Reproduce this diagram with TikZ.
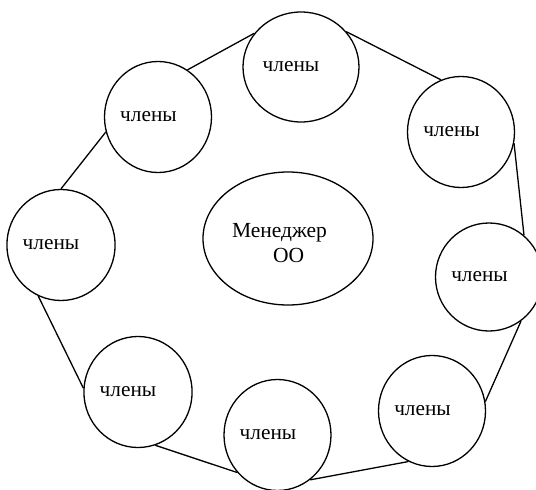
\documentclass[tikz,border=0pt]{standalone}
\usepackage{fontspec}
\setmainfont{Liberation Serif}
\usetikzlibrary{shapes.geometric}
\begin{document}
\begin{tikzpicture}[x=1pt,y=-1pt,
  member/.style={ellipse,draw,line width=1.3pt,minimum width=107pt,minimum height=111pt,inner sep=0pt,font=\fontsize{21.3}{25}\selectfont},
  link/.style={line width=1.3pt}]
\useasboundingbox (0,0) rectangle (536,490);
\clip (0,0) rectangle (536,490);
\node[member,minimum width=116pt,minimum height=110pt] (t) at (301,67) {члены\hspace*{20pt}};
\node[member] (ul) at (158,117) {члены\hspace*{19pt}};
\node[member] (l) at (61,245) {члены\hspace*{20pt}};
\node[member] (ll) at (138,392) {члены\hspace*{20pt}};
\node[member] (b) at (277.5,435) {члены\hspace*{19pt}};
\node[member] (lr) at (432,411) {члены\hspace*{19pt}};
\node[member,minimum height=108pt] (r) at (489,277) {члены\hspace*{19pt}};
\node[member] (ur) at (461,132) {члены\hspace*{19pt}};
\node[ellipse,draw,line width=1.3pt,minimum width=170pt,minimum height=133pt,inner sep=0pt,align=left,font=\fontsize{21.5}{25}\selectfont] (mgr) at (288,238.5) {\rule{0pt}{23pt}Менеджер\hspace*{17pt}\\\hspace*{41pt}ОО};
\draw[link] (t.144) -- (ul.58);
\draw[link] (t.38) -- (ur.111);
\draw[link] (ur.-12) -- (r.50);
\draw[link] (r.-54) -- (lr.10);
\draw[link] (lr.-115) -- (b.-54);
\draw[link] (b.-137) -- (ll.-72);
\draw[link] (ll.176) -- (l.-114);
\draw[link] (l.90) -- (ul.-164);
\end{tikzpicture}
\end{document}
